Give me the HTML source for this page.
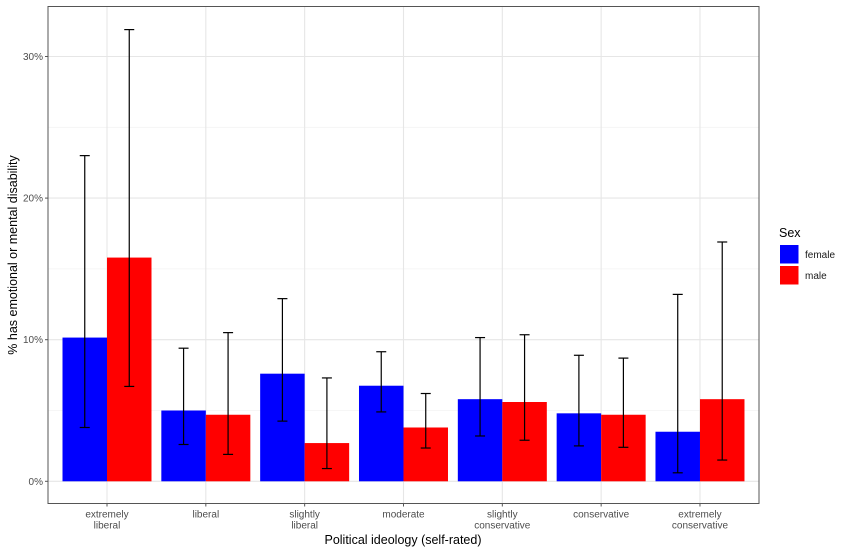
<!DOCTYPE html>
<html><head><meta charset="utf-8"><style>
body{margin:0;background:#fff;font-family:"Liberation Sans",sans-serif;}
svg text{font-family:"Liberation Sans",sans-serif;}
</style></head><body>
<svg id="chart" width="850" height="553" xmlns="http://www.w3.org/2000/svg"></svg>
<script>
const categories=["extremely\nliberal","liberal","slightly\nliberal","moderate","slightly\nconservative","conservative","extremely\nconservative"];
const femaleValues=[10.15,5.0,7.6,6.75,5.8,4.8,3.5];
const maleValues=[15.8,4.7,2.7,3.8,5.6,4.7,5.8];
const femaleLow=[3.8,2.6,4.25,4.9,3.2,2.5,0.6];
const femaleHigh=[23.0,9.4,12.9,9.15,10.15,8.9,13.2];
const maleLow=[6.7,1.9,0.9,2.35,2.9,2.4,1.5];
const maleHigh=[31.9,10.5,7.3,6.2,10.35,8.7,16.9];
const yTicks=[0,10,20,30];
const yTickLabels=["0%","10%","20%","30%"];
const yMinor=[5,15,25];

const NS="http://www.w3.org/2000/svg";
const svg=document.getElementById('chart');
const L=48,R=759,T=6.5,B=503.5;
const y0=481.3,pxPer=14.16;
const yS=v=>y0-v*pxPer;
const xC=i=>107+i*98.83;
const bw=44.5;
function mk(tag,attrs,parent){const e=document.createElementNS(NS,tag);for(const k in attrs)e.setAttribute(k,attrs[k]);(parent||svg).appendChild(e);return e;}

const grid=mk('g',{});


yMinor.forEach(v=>{mk('line',{x1:L,x2:R,y1:yS(v),y2:yS(v),stroke:'#f3f3f3','stroke-width':0.8},grid);});
yTicks.forEach(v=>{mk('line',{x1:L,x2:R,y1:yS(v),y2:yS(v),stroke:'#e6e6e6','stroke-width':1.1},grid);});
categories.forEach((c,i)=>{mk('line',{x1:xC(i),x2:xC(i),y1:T,y2:B,stroke:'#e6e6e6','stroke-width':1.1},grid);});

const bars=mk('g',{});


categories.forEach((c,i)=>{
  const f=mk('rect',{x:xC(i)-bw,y:yS(femaleValues[i]),width:bw,height:yS(0)-yS(femaleValues[i]),fill:'#0000ff'},bars);
  
  
  const m=mk('rect',{x:xC(i),y:yS(maleValues[i]),width:bw,height:yS(0)-yS(maleValues[i]),fill:'#ff0000'},bars);
  
  
});
const errs=mk('g',{stroke:'#000','stroke-width':1.2});


function eb(x,lo,hi){
  mk('line',{x1:x,x2:x,y1:yS(lo),y2:yS(hi)},errs);
  mk('line',{x1:x-5,x2:x+5,y1:yS(lo),y2:yS(lo)},errs);
  mk('line',{x1:x-5,x2:x+5,y1:yS(hi),y2:yS(hi)},errs);
}
categories.forEach((c,i)=>{eb(xC(i)-bw/2,femaleLow[i],femaleHigh[i]);eb(xC(i)+bw/2,maleLow[i],maleHigh[i]);});

const panel=mk('rect',{x:L,y:T,width:R-L,height:B-T,fill:'none',stroke:'#555','stroke-width':1});



yTicks.forEach((v,i)=>{
  mk('line',{x1:L-3,x2:L,y1:yS(v),y2:yS(v),stroke:'#555'});
  const t=mk('text',{x:L-5,y:yS(v)+3.5,'text-anchor':'end','font-size':10,fill:'#4d4d4d'});
  t.textContent=yTickLabels[i];
  
  
});
categories.forEach((c,i)=>{
  mk('line',{x1:xC(i),x2:xC(i),y1:B,y2:B+3,stroke:'#555'});
  const t=mk('text',{x:xC(i),y:B+14,'text-anchor':'middle','font-size':10,fill:'#4d4d4d'});
  
  
  c.split('\n').forEach((ln,k)=>{const s=mk('tspan',{x:xC(i),dy:k?11:0},t);s.textContent=ln;});
});
const xt=mk('text',{x:403,y:544,'text-anchor':'middle','font-size':12.5,fill:'#000'});
xt.textContent='Political ideology (self-rated)';


const yt=mk('text',{x:17,y:255,'text-anchor':'middle','font-size':12.5,fill:'#000',transform:'rotate(-90 17 255)'});
yt.textContent='% has emotional or mental disability';



const lg=mk('g',{});


const lt=mk('text',{x:779,y:237,'font-size':12.5,fill:'#000'},lg);lt.textContent='Sex';


[['female','#0000ff',245],['male','#ff0000',266]].forEach(([n,c,y])=>{
  const r=mk('rect',{x:780,y:y,width:18.5,height:18.5,fill:c},lg);
  
  
  const t=mk('text',{x:805,y:y+13,'font-size':10,fill:'#1a1a1a'},lg);t.textContent=n;
  
  
});
</script>
</body></html>
